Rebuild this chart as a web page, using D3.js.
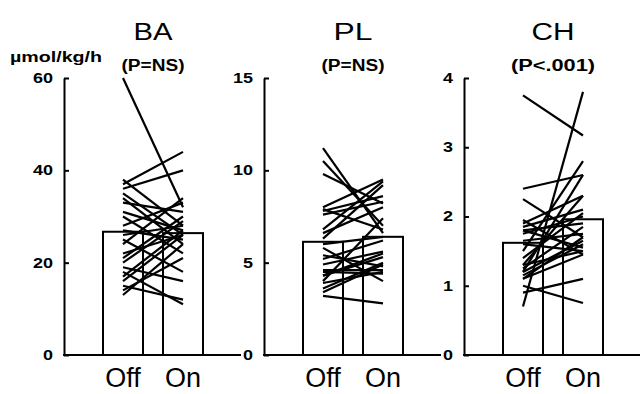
<!DOCTYPE html>
<html>
<head>
<meta charset="utf-8">
<script src="https://cdn.jsdelivr.net/npm/d3@7"></script>
<style>
  body { margin: 0; background: #fff; }
  svg { display: block; font-family: "Liberation Sans", Arial, sans-serif; }
</style>
</head>
<body>
<svg id="chart" width="640" height="394"></svg>
<script>
// panel info
const panels = ["BA", "PL", "CH"];
const pLabels = ["(P=NS)", "(P=NS)", "(P<.001)"];
const conditions = ["Off", "On"];
const yMax = [60, 15, 4];
const yTicks = [[0, 20, 40, 60], [0, 5, 10, 15], [0, 1, 2, 3, 4]];
const unitLabel = "\u00b5mol/kg/h";

// group means (bars)
const offMean = [26.7, 6.13, 1.62];
const onMean = [26.4, 6.4, 1.96];

// individual subjects, off -> on
const baOff = [60, 38, 37, 36, 35, 34, 33, 31, 30, 28, 27, 26, 25, 24, 22, 21, 20, 19, 17, 16, 15, 14, 13, 18];
const baOn  = [32, 28, 44, 40, 26, 24, 31, 27, 22, 33, 25, 28, 18, 34, 26, 30, 29, 16, 27, 26, 12, 21, 24, 11];
const plOff = [11.2, 10.5, 9.8, 8.0, 7.8, 7.9, 6.8, 6.3, 6.6, 6.0, 5.4, 4.9, 5.2, 4.5, 4.3, 4.6, 4.0, 4.3, 3.6, 3.9, 3.2, 3.4, 5.8, 7.6];
const plOn  = [6.6, 7.0, 8.2, 9.5, 8.6, 6.8, 9.4, 9.2, 8.0, 6.4, 4.8, 5.6, 6.2, 4.4, 5.5, 4.6, 7.4, 5.3, 5.0, 4.5, 2.8, 4.9, 4.0, 8.3];
const chOff = [3.75, 0.7, 2.4, 2.25, 1.5, 1.9, 1.85, 1.8, 1.75, 1.8, 1.65, 1.3, 1.25, 1.2, 1.15, 1.1, 1.3, 0.9, 1.0, 1.2, 1.95, 1.4, 1.6, 1.1];
const chOn  = [3.17, 3.8, 2.6, 1.7, 2.8, 2.3, 2.1, 1.55, 2.0, 1.9, 1.75, 2.3, 1.85, 2.6, 1.6, 1.45, 1.5, 1.1, 0.75, 1.65, 1.45, 2.05, 1.5, 1.7];

const offVals = [baOff, plOff, chOff];
const onVals = [baOn, plOn, chOn];

const svg = d3.select("#chart");
const yTop = 78, yBottom = 355;
const fmt = d3.format("d");

panels.forEach((name, i) => {
  const ox = 64 + i * 200;
  const g = svg.append("g").attr("transform", `translate(${ox},0)`);

  const y = d3.scaleLinear().domain([0, yMax[i]]).range([yBottom, yTop]);
  const x = d3.scaleBand().domain(conditions).range([39, 139]).paddingInner(1 / 3);
  const mid = 89;

  // bars
  const means = [offMean[i], onMean[i]];
  g.selectAll("rect.bar")
    .data(conditions)
    .enter()
    .append("rect")
    .attr("class", "bar")
    .attr("x", d => x(d))
    .attr("y", (d, k) => y(means[k]))
    .attr("width", x.bandwidth())
    .attr("height", (d, k) => yBottom - y(means[k]))
    .attr("fill", "#fff")
    .attr("stroke", "#000")
    .attr("stroke-width", 2);

  // subject lines
  const pairs = offVals[i].map((v, k) => [v, onVals[i][k]]);
  const cx = c => x(c) + x.bandwidth() / 2;
  g.selectAll("line.subj")
    .data(pairs)
    .enter()
    .append("line")
    .attr("class", "subj")
    .attr("x1", cx("Off"))
    .attr("x2", cx("On"))
    .attr("y1", d => y(d[0]))
    .attr("y2", d => y(d[1]))
    .attr("stroke", "#000")
    .attr("stroke-width", 2.2);

  // baseline
  g.append("line")
    .attr("x1", -1).attr("x2", i === 2 ? 180 : 177)
    .attr("y1", yBottom).attr("y2", yBottom)
    .attr("stroke", "#000").attr("stroke-width", 2);

  // y axis with inward ticks
  const ax = g.append("g")
    .call(d3.axisLeft(y).tickValues(yTicks[i]).tickFormat(fmt)
      .tickSizeInner(-5).tickSizeOuter(0).tickPadding(11));
  ax.select(".domain").attr("stroke-width", 2);
  ax.selectAll(".tick line").attr("stroke-width", 2);
  ax.attr("font-family", null).attr("font-size", null);
  ax.selectAll(".tick text")
    .attr("fill", "#000")
    .attr("font-size", 14)
    .attr("font-weight", "bold")
    .attr("textLength", d => fmt(d).length * 10)
    .attr("lengthAdjust", "spacingAndGlyphs");

  // category labels
  g.selectAll("text.cat")
    .data(conditions)
    .enter()
    .append("text")
    .attr("class", "cat")
    .attr("x", d => cx(d))
    .attr("y", 387)
    .attr("text-anchor", "middle")
    .attr("font-size", 27)
    .text(d => d);

  // titles
  g.append("text")
    .attr("x", mid).attr("y", 40)
    .attr("text-anchor", "middle")
    .attr("font-size", 23)
    .attr("textLength", name === "CH" ? 43 : 39)
    .attr("lengthAdjust", "spacingAndGlyphs")
    .text(name);

  g.append("text")
    .attr("x", mid).attr("y", 71)
    .attr("text-anchor", "middle")
    .attr("font-size", 16)
    .attr("font-weight", "bold")
    .attr("textLength", pLabels[i].length * 10.5)
    .attr("lengthAdjust", "spacingAndGlyphs")
    .text(pLabels[i]);
});

// unit label
svg.append("text")
  .attr("x", 56).attr("y", 62)
  .attr("text-anchor", "middle")
  .attr("font-size", 14)
  .attr("font-weight", "bold")
  .attr("textLength", 92)
  .attr("lengthAdjust", "spacingAndGlyphs")
  .text(unitLabel);
</script>
</body>
</html>
